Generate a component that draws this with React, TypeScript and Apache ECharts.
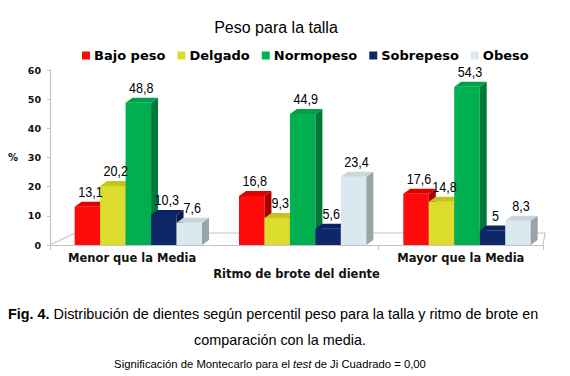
import React, { useEffect, useRef } from "react";
import * as echarts from "echarts";

const categories = ["Menor que la Media", "Igual que la Media", "Mayor que la Media"];
const seriesNames = ["Bajo peso", "Delgado", "Normopeso", "Sobrepeso", "Obeso"];
const bajoPeso = [13.1, 16.8, 17.6];
const delgado = [20.2, 9.3, 14.8];
const normopeso = [48.8, 44.9, 54.3];
const sobrepeso = [10.3, 5.6, 5];
const obeso = [7.6, 23.4, 8.3];
const yTicks = [0, 10, 20, 30, 40, 50, 60];

const seriesValues = [bajoPeso, delgado, normopeso, sobrepeso, obeso];
const frontColors = ["#FF0A0A", "#DCDC2C", "#00B050", "#0C2868", "#DAE9EF"];
const topColors = ["#E00000", "#C4C41E", "#00A048", "#0A2260", "#C9D6DA"];
const sideColors = ["#A80000", "#9A9A18", "#00783A", "#061A4A", "#9AA3A6"];

const DX = 7;
const DY = 5;
const GAP_FRAC = 0.15;
const BAR_FRAC = 0.155;

function barGeom(api: any, cat: number, val: number, s: number) {
  const catW = api.size([1, 0])[0];
  const center = api.coord([cat, 0]);
  const left = center[0] - catW / 2;
  const bottom = center[1];
  const top = api.coord([cat, val])[1];
  const barW = catW * BAR_FRAC;
  const x = left + catW * GAP_FRAC + s * barW;
  return { x, top, bottom, barW };
}

export default function App() {
  const ref = useRef<HTMLDivElement>(null);
  useEffect(() => {
    document.body.style.margin = "0";
    const chart = echarts.init(ref.current!, null, { renderer: "svg" });

    const barSeries = seriesValues.map((vals, s) => ({
      type: "custom",
      name: seriesNames[s],
      itemStyle: { color: frontColors[s] },
      z: 3 + s,
      data: vals.map((v, i) => [i, v]),
      encode: { x: 0, y: 1 },
      renderItem: (params: any, api: any) => {
        const { x, top, bottom, barW } = barGeom(api, api.value(0), api.value(1), s);
        return {
          type: "group",
          children: [
            {
              type: "rect",
              shape: { x, y: top, width: barW, height: bottom - top },
              style: { fill: frontColors[s] },
            },
            {
              type: "polygon",
              shape: {
                points: [
                  [x + barW, top],
                  [x + barW + DX, top - DY],
                  [x + barW + DX, bottom - DY],
                  [x + barW, bottom],
                ],
              },
              style: { fill: sideColors[s] },
            },
            {
              type: "polygon",
              shape: {
                points: [
                  [x, top],
                  [x + DX, top - DY],
                  [x + barW + DX, top - DY],
                  [x + barW, top],
                ],
              },
              style: { fill: topColors[s] },
            },
          ],
        };
      },
    }));

    const labelData: number[][] = [];
    seriesValues.forEach((vals, s) => vals.forEach((v, i) => labelData.push([i, v, s])));

    const labelSeries = {
      type: "custom",
      name: "labels",
      z: 20,
      silent: true,
      data: labelData,
      encode: { x: 0, y: 1 },
      renderItem: (params: any, api: any) => {
        const val = api.value(1);
        const s = api.value(2);
        const { x, top, barW } = barGeom(api, api.value(0), val, s);
        return {
          type: "text",
          x: x + barW / 2 + 3,
          y: top - 15,
          scaleX: 0.84,
          style: {
            text: String(val).replace(".", ","),
            fill: "#000",
            font: "15px 'Liberation Sans Narrow', 'Arial Narrow', 'Liberation Sans', sans-serif",
            align: "center",
            verticalAlign: "middle",
            textAlign: "center",
            textVerticalAlign: "middle",
          },
        };
      },
    };

    const floorSeries = {
      type: "custom",
      name: "floor",
      z: 1,
      silent: true,
      data: [[0, 0]],
      encode: { x: 0, y: 1 },
      renderItem: (params: any, api: any) => {
        const catW = api.size([1, 0])[0];
        const c = api.coord([0, 0]);
        const left = c[0] - catW / 2;
        const right = left + catW * categories.length;
        const y0 = c[1];
        return {
          type: "polyline",
          shape: {
            points: [
              [left, y0],
              [left + 25, y0 - 12],
              [right + 2, y0 - 12],
              [right, y0],
            ],
          },
          style: { stroke: "#C4C4C4", fill: "none", lineWidth: 1.2 },
        };
      },
    };

    chart.setOption({
      animation: false,
      backgroundColor: "#fff",
      title: {
        text: "Peso para la talla",
        left: 271,
        textAlign: "center",
        top: 14,
        textStyle: {
          fontFamily: "'Liberation Sans', Arial, sans-serif",
          fontSize: 16,
          fontWeight: "normal",
          color: "#000",
        },
      },
      legend: {
        data: seriesNames.map((n, i) => ({ name: n, itemStyle: { color: frontColors[i] } })),
        left: 77,
        top: 44,
        icon: "rect",
        itemWidth: 8,
        itemHeight: 8,
        itemGap: 12,
        textStyle: {
          fontFamily: "'DejaVu Sans', sans-serif",
          fontWeight: "bold",
          fontSize: 13,
          color: "#000",
          padding: [0, 0, 0, -1],
        },
      },
      grid: { left: 50, right: 27, top: 70, bottom: 131 },
      xAxis: {
        type: "category",
        data: categories,
        name: "Ritmo de brote del diente",
        nameLocation: "middle",
        nameGap: 23,
        nameTextStyle: {
          fontFamily: "'DejaVu Sans', sans-serif",
          fontWeight: "bold",
          fontSize: 11.5,
          color: "#111",
        },
        axisLine: { show: true, lineStyle: { color: "#C4C4C4", width: 1.2 } },
        axisTick: { show: true, length: 5, lineStyle: { color: "#C4C4C4" } },
        axisLabel: {
          margin: 7,
          fontFamily: "'DejaVu Sans', sans-serif",
          fontWeight: "bold",
          fontSize: 11.5,
          color: "#111",
        },
        splitLine: { show: false },
      },
      yAxis: {
        type: "value",
        min: yTicks[0],
        max: yTicks[yTicks.length - 1],
        interval: 10,
        name: "%",
        nameLocation: "middle",
        nameRotate: 0,
        nameGap: 32,
        nameTextStyle: {
          fontFamily: "'DejaVu Sans', sans-serif",
          fontWeight: "bold",
          fontSize: 10,
          color: "#111",
        },
        axisLine: { show: true, lineStyle: { color: "#C4C4C4", width: 1.2 } },
        axisTick: { show: true, length: 3, lineStyle: { color: "#C4C4C4" } },
        axisLabel: {
          margin: 9,
          fontFamily: "'DejaVu Sans', sans-serif",
          fontWeight: "bold",
          fontSize: 9.5,
          color: "#111",
        },
        splitLine: { show: false },
      },
      series: [floorSeries, ...barSeries, labelSeries],
      graphic: [
        {
          type: "text",
          left: 8,
          top: 307,
          style: {
            text: "{b|Fig. 4.} Distribución de dientes según percentil peso para la talla y ritmo de brote en",
            font: "14.4px 'Liberation Sans', Arial, sans-serif",
            fill: "#000",
            rich: {
              b: { fontWeight: "bold", fontSize: 14.4, fontFamily: "'Liberation Sans', Arial, sans-serif" },
            },
          },
        },
        {
          type: "text",
          x: 280,
          y: 340,
          style: {
            text: "comparación con la media.",
            font: "14.4px 'Liberation Sans', Arial, sans-serif",
            fill: "#000",
            align: "center",
            verticalAlign: "middle",
            textAlign: "center",
            textVerticalAlign: "middle",
          },
        },
        {
          type: "text",
          x: 270,
          y: 364,
          style: {
            text: "Significación de Montecarlo para el {i|test} de Ji Cuadrado = 0,00",
            font: "11.3px 'Liberation Sans', Arial, sans-serif",
            fill: "#000",
            align: "center",
            verticalAlign: "middle",
            textAlign: "center",
            textVerticalAlign: "middle",
            rich: {
              i: { fontStyle: "italic", fontSize: 11.3, fontFamily: "'Liberation Sans', Arial, sans-serif" },
            },
          },
        },
      ],
    });
    return () => chart.dispose();
  }, []);
  return <div ref={ref} style={{ width: 570, height: 376 }} />;
}
